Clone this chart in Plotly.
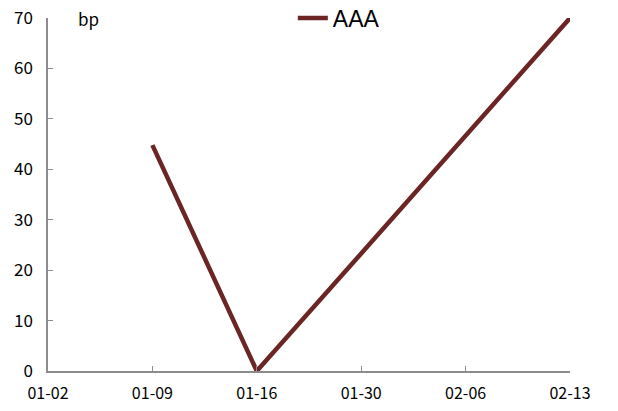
import plotly.graph_objects as go

categories = ["01-02", "01-09", "01-16", "01-30", "02-06", "02-13"]
aaa_values = [None, 44.8, 0.0, 23.3, 46.7, 70.0]
y_ticks = [0, 10, 20, 30, 40, 50, 60, 70]

FONT = "Noto Sans CJK SC"
x_idx = list(range(len(categories)))

fig = go.Figure()
fig.add_trace(go.Scatter(
    x=x_idx, y=aaa_values, mode="lines", name="AAA",
    line=dict(color="#6B2525", width=4.5),
    connectgaps=False,
))

fig.update_layout(
    width=618, height=411,
    margin=dict(l=48, r=48, t=18, b=40, autoexpand=False),
    paper_bgcolor="white", plot_bgcolor="white",
    font=dict(family=FONT, size=17, color="black"),
    showlegend=True,
    legend=dict(
        x=0.469, y=1.0, xanchor="left", yanchor="middle",
        orientation="h", bgcolor="rgba(0,0,0,0)",
        font=dict(size=23, family="Liberation Sans", color="black"),
    ),
    xaxis=dict(
        range=[0, 5], tickmode="array", tickvals=x_idx, ticktext=categories,
        showgrid=False, zeroline=False, showline=True, linecolor="#8c8c8c",
        linewidth=1.5, ticks="inside", ticklen=5, tickcolor="#8c8c8c",
        ticklabelstandoff=7, tickfont=dict(size=16),
    ),
    yaxis=dict(
        range=[0, 70], tickmode="array", tickvals=y_ticks,
        showgrid=False, zeroline=False, showline=True, linecolor="#8c8c8c",
        linewidth=1.5, ticks="inside", ticklen=5, tickcolor="#8c8c8c",
        ticklabelstandoff=10, tickfont=dict(size=17),
    ),
    annotations=[dict(
        text="bp", xref="paper", yref="paper", x=0.077, y=1.0,
        xanchor="center", yanchor="middle", showarrow=False,
        font=dict(size=17, family=FONT, color="black"),
    )],
)

fig.write_html("out.html", config={"displayModeBar": False},
               post_script="document.body.style.margin='0';")
